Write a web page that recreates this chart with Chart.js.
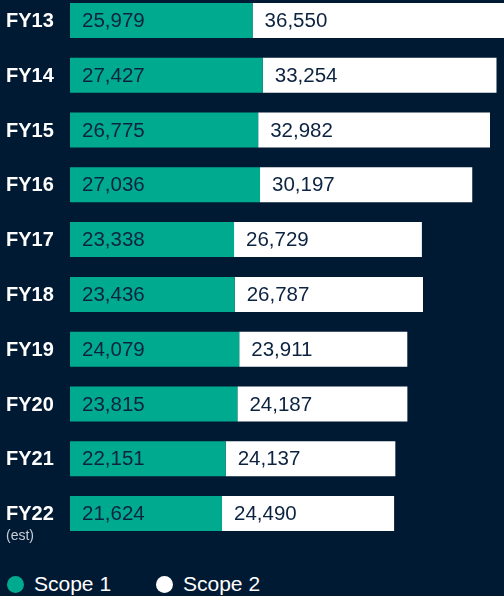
<!DOCTYPE html>
<html>
<head>
<meta charset="utf-8">
<script src="https://cdn.jsdelivr.net/npm/chart.js@4"></script>
<style>
  html, body { margin: 0; padding: 0; background: #011a33; width: 504px; height: 596px; overflow: hidden; }
  #wrap { position: absolute; left: 0; top: -7px; width: 504px; height: 564px; }
  #legend { position: absolute; left: 0; top: 572px; height: 24px; font-family: "Liberation Sans", Arial, sans-serif; font-size: 21px; color: #ffffff; }
  .item { position: absolute; top: 0; white-space: nowrap; line-height: 24px; }
  .dot { position: absolute; top: 4px; width: 17px; height: 17px; border-radius: 50%; }
</style>
</head>
<body>
<div id="wrap"><canvas id="emissions"></canvas></div>
<div id="legend"></div>
<script>
const years = ["FY13", "FY14", "FY15", "FY16", "FY17", "FY18", "FY19", "FY20", "FY21", "FY22"];
const subLabels = ["", "", "", "", "", "", "", "", "", "(est)"];
const scope1 = [25979, 27427, 26775, 27036, 23338, 23436, 24079, 23815, 22151, 21624];
const scope2 = [36550, 33254, 32982, 30197, 26729, 26787, 23911, 24187, 24137, 24490];
const seriesNames = ["Scope 1", "Scope 2"];
const seriesColors = ["#00aa8f", "#ffffff"];

const font = '"Liberation Sans", Arial, sans-serif';

// value labels inside the bars + FY labels on the left
const labelPlugin = {
  id: "labels",
  afterDatasetsDraw(chart) {
    const ctx = chart.ctx;
    ctx.save();
    ctx.textBaseline = "middle";
    ctx.textAlign = "left";
    chart.data.datasets.forEach((ds, i) => {
      chart.getDatasetMeta(i).data.forEach((bar, j) => {
        ctx.fillStyle = "#0c2340";
        ctx.font = "20.5px " + font;
        ctx.fillText(ds.data[j].toLocaleString("en-US"), bar.base + 12, bar.y + 1);
      });
    });
    const yScale = chart.scales.y;
    years.forEach((yr, j) => {
      const y = yScale.getPixelForValue(j);
      ctx.fillStyle = "#ffffff";
      ctx.font = "bold 20px " + font;
      ctx.fillText(yr, 6, y + 1);
      if (subLabels[j]) {
        ctx.fillStyle = "#c9ced6";
        ctx.font = "14px " + font;
        ctx.fillText(subLabels[j], 6, y + 23);
      }
    });
    ctx.restore();
  },
};

let ctx = document.getElementById("emissions").getContext("2d");
new Chart(ctx, {
  type: "bar",
  data: {
    labels: years,
    datasets: [
      { label: seriesNames[0], data: scope1, backgroundColor: seriesColors[0] },
      { label: seriesNames[1], data: scope2, backgroundColor: seriesColors[1] },
    ],
  },
  options: {
    indexAxis: "y",
    responsive: true,
    maintainAspectRatio: false,
    animation: false,
    devicePixelRatio: 1,
    layout: { padding: { left: 70, right: 0, top: 0, bottom: 16 } },
    datasets: { bar: { barPercentage: 0.638, categoryPercentage: 1, borderWidth: 0 } },
    plugins: { legend: { display: false }, tooltip: { enabled: false } },
    scales: {
      x: { stacked: true, display: false, min: 0, max: 61750 },
      y: { stacked: true, display: false },
    },
  },
  plugins: [labelPlugin],
});

// legend
const legend = document.getElementById("legend");
const legendX = [7, 156];
seriesNames.forEach((name, i) => {
  const item = document.createElement("div");
  item.className = "item";
  item.style.left = legendX[i] + "px";
  item.innerHTML = `<span class="dot" style="left:0;background:${seriesColors[i]}"></span><span style="margin-left:27px">${name}</span>`;
  legend.appendChild(item);
});
</script>
</body>
</html>
